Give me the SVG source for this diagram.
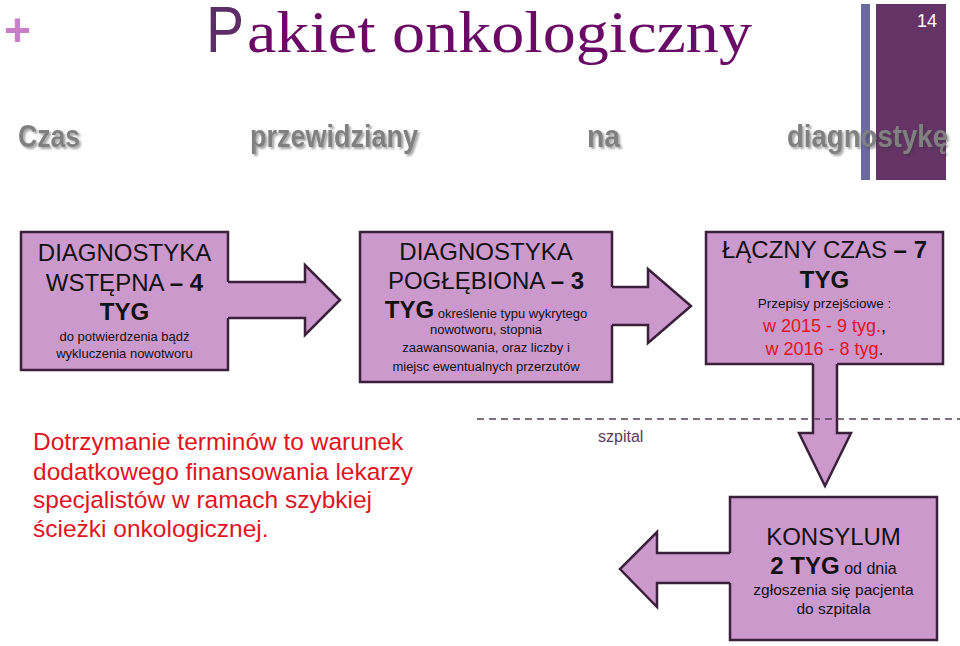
<svg xmlns="http://www.w3.org/2000/svg" width="960" height="646" viewBox="0 0 960 646">
<defs>
<style>
.box{fill:#cc99cc;stroke:#3b1f3b;stroke-width:2.5}
.af{fill:#cc99cc;stroke:none}
.as{fill:none;stroke:#3b1f3b;stroke-width:2.5;stroke-linejoin:miter}
.t{font-family:"Liberation Sans",Arial,sans-serif;fill:#111;text-anchor:middle}
.big{font-size:24px}
.sm{font-size:13px}
.b{font-weight:bold}
.red{fill:#e0141e}
.sub{font-family:"Liberation Sans",Arial,sans-serif;font-weight:bold;font-size:32px;fill:#808080}
</style>
<filter id="sh" x="-10%" y="-20%" width="130%" height="160%">
<feDropShadow dx="2" dy="2" stdDeviation="1" flood-color="#333" flood-opacity="0.45"/>
</filter>
</defs>
<rect width="960" height="646" fill="#ffffff"/>

<g id="header">
<text x="4" y="46" font-family="'Liberation Sans',Arial,sans-serif" font-weight="bold" font-size="46" fill="#c77dc7">+</text>
<rect x="861" y="4" width="9" height="176" fill="#6a6a9e"/>
<rect x="876" y="4" width="70" height="176" fill="#653366"/>
<text x="937" y="27" font-family="'Liberation Sans',Arial,sans-serif" font-size="18" fill="#ffffff" text-anchor="end">14</text>
<text x="206" y="52" font-size="64" fill="#5c2d66" style="font-family:'Liberation Sans',Arial,sans-serif" textLength="38" lengthAdjust="spacingAndGlyphs">P</text>
<text x="247" y="52" font-size="60" fill="#6a0a66" style="font-family:'Liberation Serif','DejaVu Serif','Noto Serif',Tinos,'Times New Roman',serif" textLength="505" lengthAdjust="spacingAndGlyphs">akiet onkologiczny</text>
<g filter="url(#sh)">
<text class="sub" x="18" y="147" textLength="62" lengthAdjust="spacingAndGlyphs">Czas</text>
<text class="sub" x="250" y="147" textLength="168" lengthAdjust="spacingAndGlyphs">przewidziany</text>
<text class="sub" x="587" y="147" textLength="33" lengthAdjust="spacingAndGlyphs">na</text>
<text class="sub" x="787" y="147" textLength="161" lengthAdjust="spacingAndGlyphs">diagnostykę</text>
</g>
</g>

<g id="node-wstepna">
<rect class="box" x="21" y="232" width="207" height="138"/>
<text class="t big" x="124.5" y="261">DIAGNOSTYKA</text>
<text class="t big" x="124.5" y="291">WSTĘPNA <tspan class="b">– 4</tspan></text>
<text class="t big b" x="124.5" y="320">TYG</text>
<text class="t sm" x="124.5" y="341">do potwierdzenia bądź</text>
<text class="t sm" x="124.5" y="358">wykluczenia nowotworu</text>
</g>

<g id="node-poglebiona">
<rect class="box" x="360" y="232" width="252" height="150"/>
<text class="t big" x="486" y="260">DIAGNOSTYKA</text>
<text class="t big" x="486" y="289">POGŁĘBIONA <tspan class="b">– 3</tspan></text>
<text class="t" x="486" y="318"><tspan class="big b">TYG</tspan><tspan class="sm"> określenie typu wykrytego</tspan></text>
<text class="t sm" x="486" y="334">nowotworu, stopnia</text>
<text class="t sm" x="486" y="352">zaawansowania, oraz liczby i</text>
<text class="t sm" x="486" y="371">miejsc ewentualnych przerzutów</text>
</g>

<g id="node-laczny">
<rect class="box" x="706" y="232" width="237" height="132"/>
<text class="t big" x="824.5" y="258">ŁĄCZNY CZAS <tspan class="b">– 7</tspan></text>
<text class="t big b" x="824.5" y="288">TYG</text>
<text class="t" x="824.5" y="308" font-size="13.5">Przepisy przejściowe :</text>
<text class="t" x="824.5" y="332" font-size="18"><tspan class="red">w 2015 - 9 tyg.</tspan>,</text>
<text class="t" x="824.5" y="355" font-size="18"><tspan class="red">w 2016 - 8 tyg</tspan>.</text>
</g>

<g id="node-konsylum">
<rect class="box" x="730" y="497" width="207" height="143"/>
<text class="t big" x="833.5" y="545">KONSYLUM</text>
<text class="t" x="833.5" y="574"><tspan class="big b">2 TYG</tspan><tspan font-size="16"> od dnia</tspan></text>
<text class="t" x="833.5" y="595" font-size="15.5">zgłoszenia się pacjenta</text>
<text class="t" x="833.5" y="614" font-size="15.5">do szpitala</text>
</g>

<g id="connectors">
<polygon class="af" points="226,282 305,282 305,265 340,300 305,335 305,318 226,318"/>
<polyline class="as" points="228,282 305,282 305,265 340,300 305,335 305,318 228,318"/>
<polygon class="af" points="610,287 648,287 648,269 691,306 648,343 648,325 610,325"/>
<polyline class="as" points="612,287 648,287 648,269 691,306 648,343 648,325 612,325"/>
<polygon class="af" points="813,362 813,433 799,433 825,486 851,433 837,433 837,362"/>
<polyline class="as" points="813,364 813,433 799,433 825,486 851,433 837,433 837,364"/>
<polygon class="af" points="732,553 657,553 657,532 620,569 657,607 657,583 732,583"/>
<polyline class="as" points="730,553 657,553 657,532 620,569 657,607 657,583 730,583"/>
</g>

<g id="hospital-boundary">
<line x1="477" y1="419" x2="960" y2="419" stroke="#5a3a5a" stroke-width="1.5" stroke-dasharray="7,5"/>
<text x="598" y="442" font-family="'Liberation Sans',Arial,sans-serif" font-size="16" fill="#5a3a5a">szpital</text>
</g>

<g id="note">
<text font-family="'Liberation Sans',Arial,sans-serif" font-size="24.5" fill="#e0141e">
<tspan x="33" y="450">Dotrzymanie terminów to warunek</tspan>
<tspan x="33" y="480">dodatkowego finansowania lekarzy</tspan>
<tspan x="33" y="508">specjalistów w ramach szybkiej</tspan>
<tspan x="33" y="537">ścieżki onkologicznej.</tspan>
</text>
</g>
</svg>
